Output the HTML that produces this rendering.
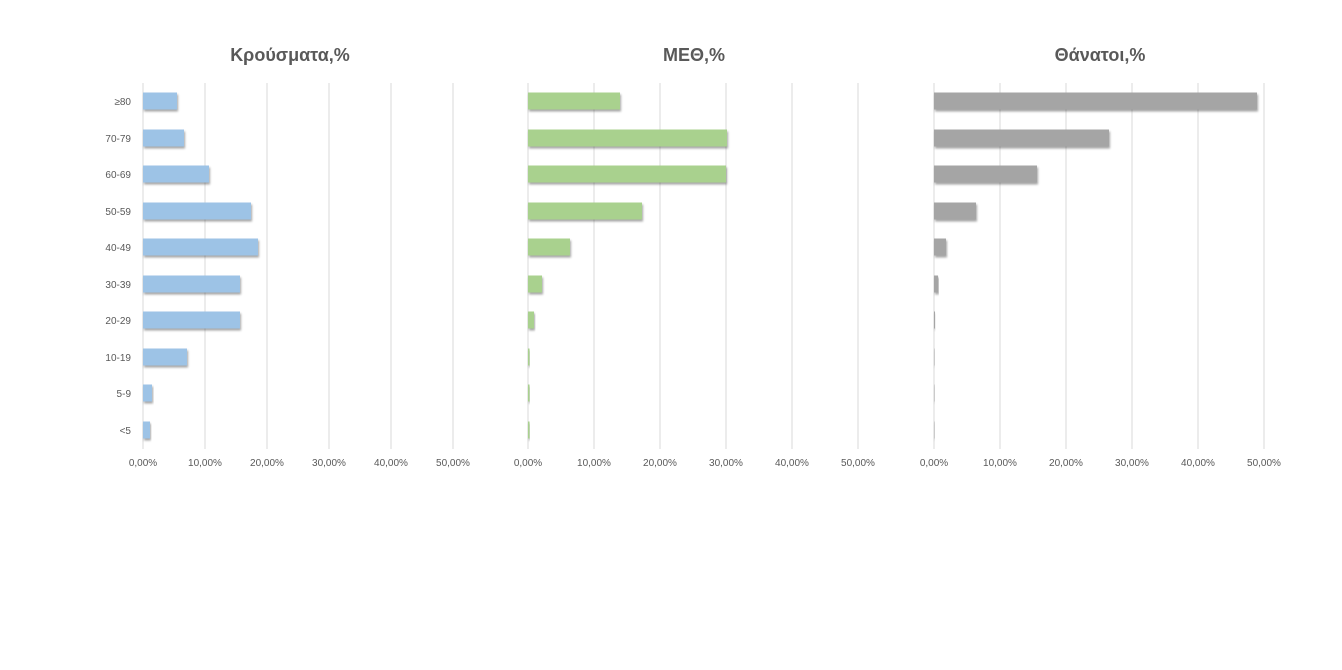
<!DOCTYPE html>
<html><head><meta charset="utf-8"><style>
html,body{margin:0;padding:0;background:#fff;}
svg{display:block;font-family:"Liberation Sans","DejaVu Sans",sans-serif;}
.t{font-size:18px;font-weight:bold;fill:#595959;text-anchor:middle;}
.k{font-size:10px;fill:#595959;text-anchor:middle;}
.c{font-size:10px;fill:#595959;text-anchor:end;}
.g{stroke:#d9d9d9;stroke-width:1;}
</style></head><body>
<svg width="1342" height="670" viewBox="0 0 1342 670">
<defs><filter id="s" x="-10%" y="-30%" width="130%" height="180%"><feDropShadow dx="1" dy="2" stdDeviation="1" flood-color="#000" flood-opacity="0.35"/></filter></defs>
<g id="all"></g>
<text class="t" x="290" y="61">Κρούσματα,%</text>
<text class="t" x="694" y="61">ΜΕΘ,%</text>
<text class="t" x="1100" y="61">Θάνατοι,%</text>
<script>
const NS="http://www.w3.org/2000/svg",g=document.getElementById('all');
function el(t,a,txt){const e=document.createElementNS(NS,t);for(const k in a)e.setAttribute(k,a[k]);if(txt)e.textContent=txt;g.appendChild(e);return e;}
const rows=["≥80","70-79","60-69","50-59","40-49","30-39","20-29","10-19","5-9","<5"];
const ys=[101,138,174,211,247,284,320,357,393,430];
const charts=[
 {x0:143,step:62,col:"#9dc3e6",ends:[177,184,209,251,258,240,240,187,152,150]},
 {x0:528,step:66,col:"#a9d18e",ends:[620,727,726,642,570,542,534,529.5,529.5,529.5]},
 {x0:934,step:66,col:"#a5a5a5",ends:[1257,1109,1037,976,946,938,935,934.5,934.5,934.5]}];
charts.forEach(c=>{
 for(let i=0;i<6;i++){const x=c.x0+i*c.step;el('line',{x1:x,x2:x,y1:83,y2:449,class:'g'});
  el('text',{x:x,y:466,class:'k'},(i*10)+',00%');}
 c.ends.forEach((e,i)=>el('rect',{x:c.x0,y:ys[i]-8.5,width:Math.max(e-c.x0,0.5),height:17,fill:c.col,filter:'url(#s)'}));
});
rows.forEach((r,i)=>el('text',{x:131,y:ys[i]+4,class:'c'},r));
</script>
</svg>
</body></html>
